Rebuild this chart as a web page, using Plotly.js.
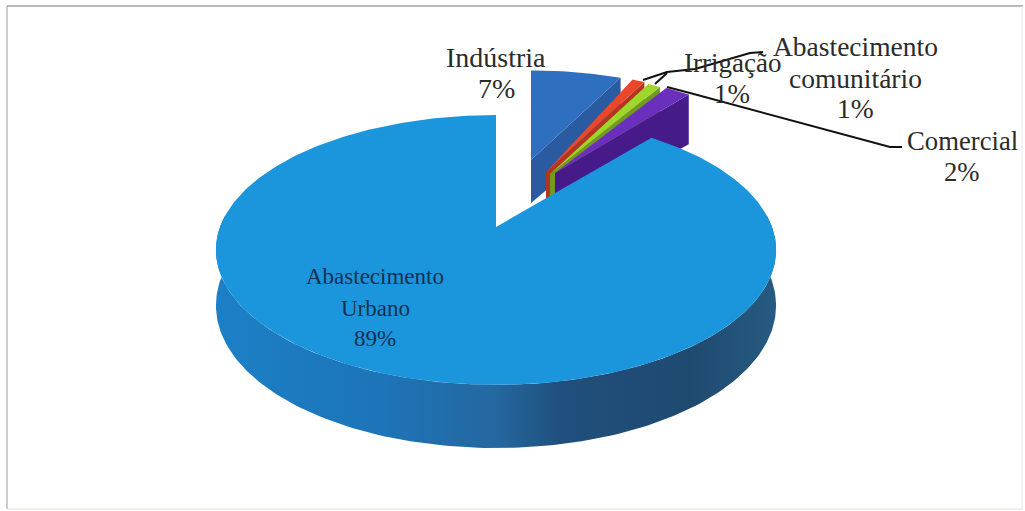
<!DOCTYPE html>
<html><head><meta charset="utf-8">
<script src="https://cdn.plot.ly/plotly-3.0.1.min.js"></script>
<style>html,body{margin:0;padding:0;background:#fff;overflow:hidden}</style>
</head><body><div id="chart" style="width:1025px;height:511px"></div>
<script>
const categories = ["Indústria","Abastecimento comunitário","Irrigação","Comercial","Abastecimento Urbano"];
const labelLines = [["Indústria"],["Abastecimento","comunitário"],["Irrigação"],["Comercial"],["Abastecimento","Urbano"]];
const values = [7,1,1,2,89];
const topColors = ["#2f6fc0","#e8472a","#9ed62c","#6b2fbe","#1b95dc"];
const wallColors = ["#2a5ba0","#b5341f","#6f9c1e","#471a8a","#1b7cc2"];
const TILT = 0.17, BY = 131, AX = 276;
const anchors = [
  {x:531,y:160,sx:.88,sy:.80,d:43},
  {x:546,y:172,sx:.85,sy:.90,d:44},
  {x:550,y:174,sx:.85,sy:.90,d:44},
  {x:555,y:173,sx:.86,sy:.88,d:44},
  {x:496,y:227,sx:1,sy:1,d:54}
];
const labelX = [496,855,732,962,375];
const labelY = [[57,88],[46,78,108],[63,94],[141,172],[276,308,338]];
const labelSize = [28,27.5,27,26.7,23];
const labelColors = ["#2b2b2b","#2b2b2b","#2b2b2b","#2b2b2b","#14314f"];
const total = values.reduce((a,b)=>a+b,0);
function proj(deg,a){
  const r=deg*Math.PI/180,u=Math.sin(r),v=-Math.cos(r),w=1-TILT*v;
  return {x:a.x+a.sx*AX*u/w,y:a.y+a.sy*BY*v/w,w:w};
}
const traces=[];
function poly(xs,ys,color,extra){
  traces.push(Object.assign({type:"scatter",mode:"lines",x:xs,y:ys,fill:"toself",fillcolor:color,
    line:{width:0,color:color},hoverinfo:"skip",showlegend:false},extra||{}));
}
let start=0;
values.forEach((val,i)=>{
  const a=anchors[i],sweep=val/total*360,end=start+sweep,ang=[];
  const n=Math.max(4,Math.ceil(sweep));
  for(let k=0;k<=n;k++)ang.push(start+sweep*k/n);
  const pts=ang.map(t=>proj(t,a));
  if(i<4){
    const p=pts[pts.length-1];
    poly([a.x,p.x,p.x,a.x],[a.y,p.y,p.y+a.d*p.w,a.y+a.d],wallColors[i]);
  }else{
    const rim=[];for(let t=85;t<=275;t+=1)rim.push(proj(t,a));
    const back=rim.slice().reverse();
    poly(rim.map(p=>p.x).concat(back.map(p=>p.x)),
         rim.map(p=>p.y).concat(back.map(p=>p.y+a.d*(2-p.w))),
         wallColors[i],
         {fillgradient:{type:"horizontal",colorscale:[[0,"#1c80c6"],[0.3,"#1d74b8"],[0.5,"#2468a0"],[0.62,"#1f4f7c"],[0.85,"#1f4a70"],[1,"#265a80"]],start:215,stop:775}});
  }
  poly([a.x].concat(pts.map(p=>p.x),[a.x]),[a.y].concat(pts.map(p=>p.y),[a.y]),topColors[i]);
  start=end;
});
const annotations=[];
categories.forEach((c,i)=>{
  labelLines[i].concat([Math.round(values[i]/total*100)+"%"]).forEach((t,j)=>{
    annotations.push({x:labelX[i],y:labelY[i][j],xref:"x",yref:"y",text:t,showarrow:false,xanchor:"center",yanchor:"middle",
      font:{family:"Liberation Serif",size:labelSize[i],color:labelColors[i]}});
  });
});
const leader=(d)=>({type:"path",path:d,xref:"x",yref:"y",line:{color:"#111",width:2}});
const edge=(x0,y0,x1,y1,color,w)=>({type:"line",xref:"x",yref:"y",x0,y0,x1,y1,line:{color,width:w}});
const layout={width:1025,height:511,margin:{l:0,r:0,t:0,b:0},paper_bgcolor:"#fff",plot_bgcolor:"#fff",showlegend:false,
  xaxis:{range:[0,1025],visible:false,fixedrange:true},
  yaxis:{range:[511,0],visible:false,fixedrange:true},
  annotations:annotations,
  shapes:[
    edge(7,6,1023,6,"#777",1.2),
    edge(7,6,7,509,"#aaa",1.2),
    edge(7,509,1023,509,"#e4e4d8",1),
    edge(1022,6,1022,509,"#e8e8e8",1),
    leader("M643,80 L667,72 L695,69 L750,53 L763,52"),
    leader("M655,84 L667,73"),
    leader("M667,87 L690,93 L890,147 L902,147")
  ]};
Plotly.newPlot("chart",traces,layout,{displayModeBar:false,staticPlot:true});
</script></body></html>
